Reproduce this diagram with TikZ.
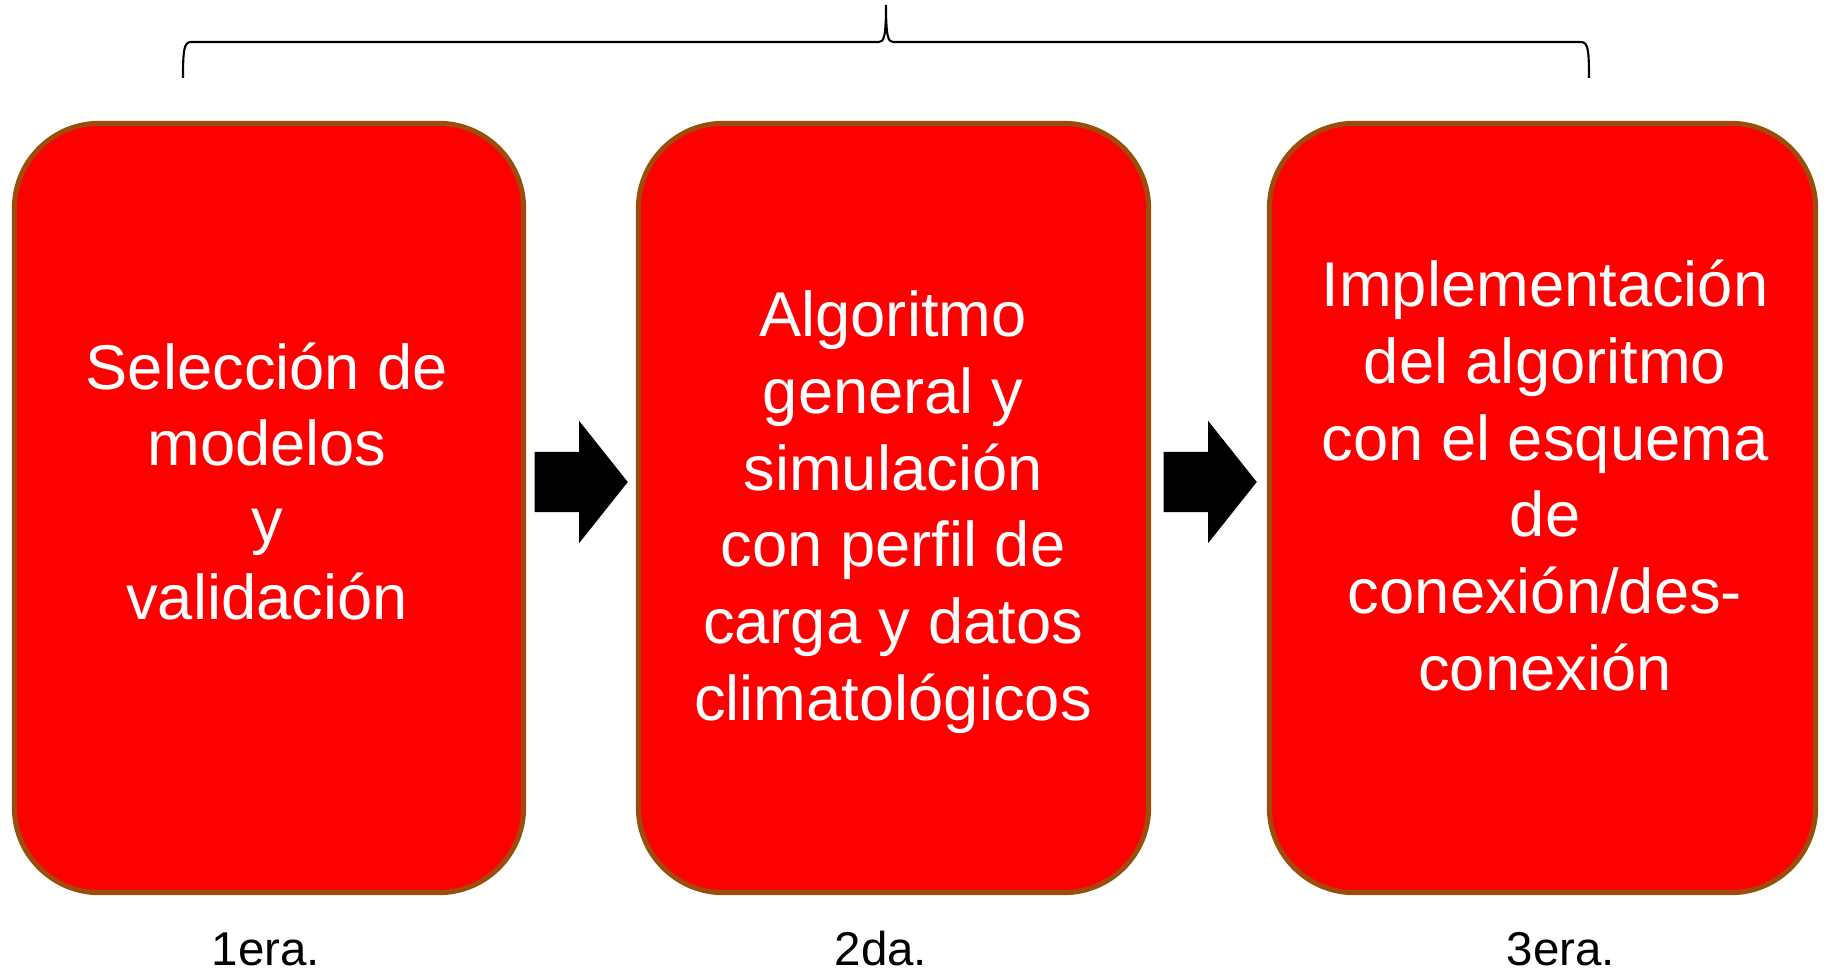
\documentclass[tikz,border=0pt]{standalone}
\usepackage{fontspec}
\setmainfont{Liberation Sans}
\usetikzlibrary{positioning,shapes.arrows}
\definecolor{boxred}{RGB}{255,0,0}
\definecolor{boxedge}{RGB}{156,77,10}

\begin{document}
\begin{tikzpicture}[x=0.01cm, y=-0.01cm,
      stage/.style={draw=boxedge, line width=1.42pt, fill=boxred, rounded corners=0.85cm,
                    minimum height=7.69cm, inner sep=0},
      stagetext/.style={text=white, align=center, anchor=base,
                        font=\fontsize{18pt}{21.8pt}\selectfont},
      flow/.style={single arrow, fill=black, inner sep=0, text height=0.59cm, text depth=0,
                   single arrow head extend=0.31cm, single arrow tip angle=103,
                   minimum height=0.93cm, anchor=tail},
      lbl/.style={anchor=base, font=\fontsize{13.5pt}{16pt}\selectfont}]
      \useasboundingbox (0,0) rectangle (1824,970);
      % las tres etapas
      \node[stage, minimum width=5.09cm] (s1) at (269,508) {};
      \node[stage, minimum width=5.10cm] (s2) at (893.5,508) {};
      \node[stage, minimum width=5.46cm] (s3) at (1542.5,508) {};
      \node[stagetext] (t1) at (267,619) {Selección de\\modelos\\y\\validación};
      \node[stagetext] (t2) at (893,720) {Algoritmo\\general y\\simulación\\con perfil de\\carga y datos\\climatológicos};
      \node[stagetext] (t3) at (1545,690) {Implementación\\del algoritmo\\con el esquema\\de\\conexión/des-\\conexión};
      % flechas
      \node[flow] (a1) at (534,482) {};
      \node[flow] (a2) at (1163,482) {};
      % llave
      \draw[line width=0.6pt] (183,78) .. controls (183,50) and (184,42) .. (191,42) -- (879,42)
            .. controls (884,42) and (886,36) .. (886,5)
            .. controls (886,36) and (888,42) .. (893,42) -- (1581,42)
            .. controls (1588,42) and (1589,50) .. (1589,78);
      \node[lbl] (l1) at (266,965) {1era.};
      \node[lbl] (l2) at (881,965) {2da.};
      \node[lbl] (l3) at (1561,965) {3era.};
\end{tikzpicture}
\end{document}
